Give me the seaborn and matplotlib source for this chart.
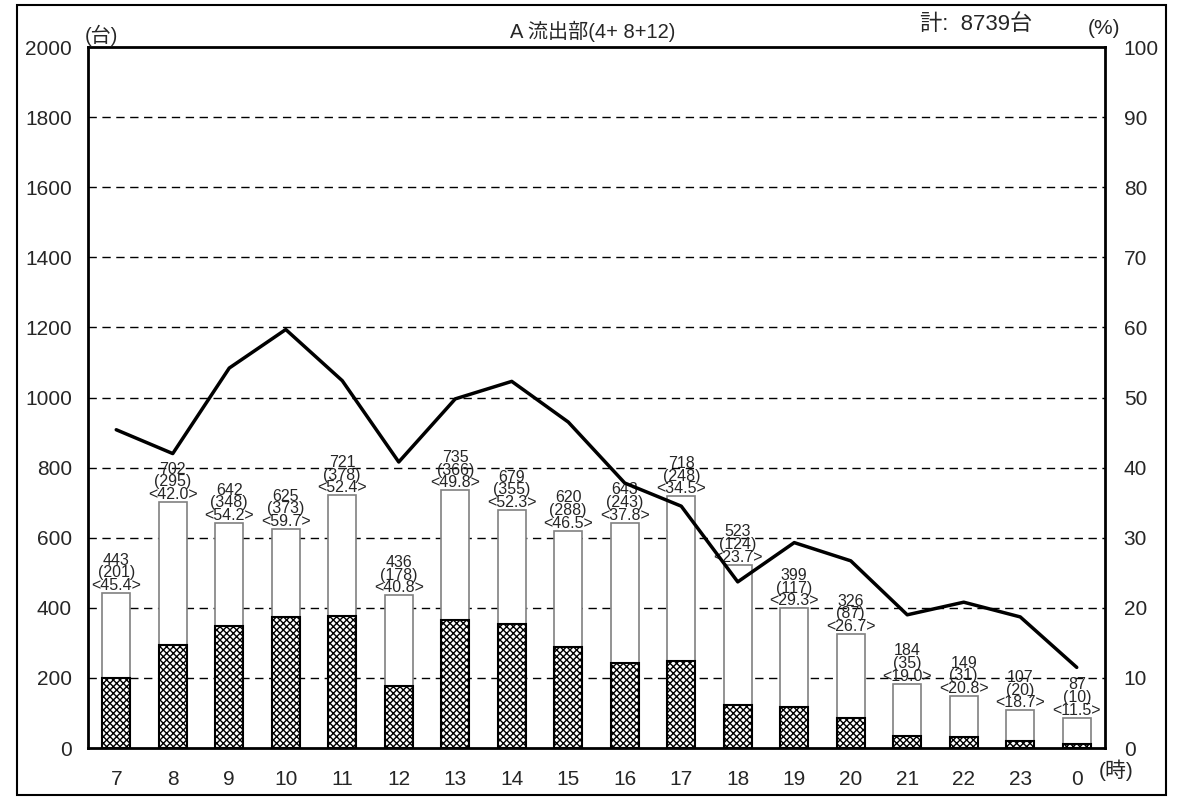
import numpy as np
import pandas as pd
import matplotlib
matplotlib.use("Agg")
import matplotlib.pyplot as plt
import matplotlib.patches as mpatches
import seaborn as sns

hours = ["7", "8", "9", "10", "11", "12", "13", "14", "15", "16", "17", "18", "19", "20", "21", "22", "23", "0"]
total = [443, 702, 642, 625, 721, 436, 735, 679, 620, 643, 718, 523, 399, 326, 184, 149, 107, 87]
large = [201, 295, 348, 373, 378, 178, 366, 355, 288, 243, 248, 124, 117, 87, 35, 31, 20, 10]
ratio = [45.4, 42.0, 54.2, 59.7, 52.4, 40.8, 49.8, 52.3, 46.5, 37.8, 34.5, 23.7, 29.3, 26.7, 19.0, 20.8, 18.7, 11.5]

sns.set_style("white")
plt.rcParams['font.family'] = ['Liberation Sans', 'Noto Sans CJK JP', 'DejaVu Sans']
plt.rcParams['hatch.linewidth'] = 1.0

df = pd.DataFrame({'hour': hours, 'total': total, 'large': large, 'ratio': ratio})
df['pos'] = np.arange(len(df))

fig = plt.figure(figsize=(11.81, 8), dpi=100)
ax = fig.add_axes([88 / 1181, 1 - 748 / 800, (1105 - 88) / 1181, (748 - 47) / 800])

# outer frame
fig.patches.append(mpatches.Rectangle((17 / 1181, 5 / 800), (1166 - 17) / 1181, (795 - 5) / 800,
                                      transform=fig.transFigure, fill=False, edgecolor='black', lw=1.5))

sns.barplot(data=df, x='hour', y='total', order=hours, color='white', saturation=1,
            edgecolor='#808080', linewidth=1.2, width=0.5, ax=ax, zorder=3)
sns.barplot(data=df, x='hour', y='large', order=hours, color='white', saturation=1,
            edgecolor='black', linewidth=1.5, width=0.5, hatch='xxxxx', ax=ax, zorder=4)

for i, r in df.iterrows():
    ax.text(i, r['total'], f"{r['total']}\n({r['large']})\n<{r['ratio']:.1f}>", ha='center', va='bottom',
            fontsize=11.5, linespacing=0.8, zorder=6)

ax.set_ylim(0, 2000)
ax.set_xlim(-0.5, len(hours) - 0.5)
ax.set_yticks(range(0, 2001, 200))
for y in range(200, 2000, 200):
    ax.axhline(y, color='black', lw=1, ls=(0, (6, 4)), zorder=1)
ax.set_xlabel('')
ax.set_ylabel('')
ax.tick_params(axis='both', length=0, labelsize=15, pad=11.5)
ax.tick_params(axis='x', pad=16)
ax.set_xticks(np.arange(len(hours) - 1) + 0.5, minor=True)
ax.tick_params(axis='x', which='minor', direction='in', length=5, width=1, color='#555555')
for s in ax.spines.values():
    s.set_linewidth(2)
    s.set_color('black')

ax2 = ax.twinx()
sns.lineplot(data=df, x='pos', y='ratio', color='black', lw=2.5, ax=ax2, zorder=5)
ax2.set_ylim(0, 100)
ax2.set_yticks(range(0, 101, 10))
ax2.set_ylabel('')
ax2.set_xlabel('')
ax2.tick_params(axis='y', length=0, labelsize=15, pad=13.5)
for s in ax2.spines.values():
    s.set_visible(False)

fig.text(101 / 1181, 1 - 35 / 800, '(台)', fontsize=14.5, ha='center', va='center')
fig.text(593 / 1181, 1 - 31 / 800, 'A 流出部(4+ 8+12)', fontsize=14.5, ha='center', va='center')
fig.text(976 / 1181, 1 - 25 / 800, '計:  8739台', fontsize=16, ha='center', va='center')
fig.text(1104 / 1181, 1 - 29 / 800, '(%)', fontsize=15, ha='center', va='center')
fig.text(1116 / 1181, 1 - 770 / 800, '(時)', fontsize=15, ha='center', va='center')

fig.savefig('out.png', dpi=100)
